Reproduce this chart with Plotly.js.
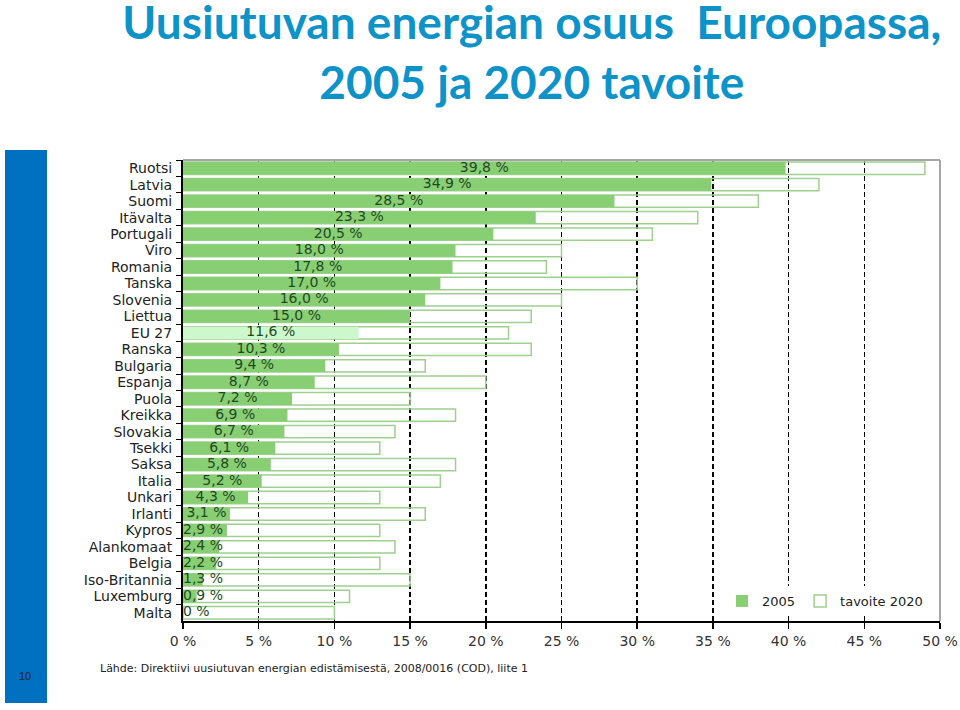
<!DOCTYPE html>
<html>
<head>
<meta charset="utf-8">
<script src="https://cdn.plot.ly/plotly-3.0.1.min.js"></script>
<style>html,body{margin:0;padding:0;background:#fff;}#chart{width:960px;height:710px;}</style>
</head>
<body>
<div id="chart"></div>
<script>
// ---- data ----
const countries = ["Ruotsi","Latvia","Suomi","Itävalta","Portugali","Viro","Romania","Tanska","Slovenia","Liettua","EU 27","Ranska","Bulgaria","Espanja","Puola","Kreikka","Slovakia","Tsekki","Saksa","Italia","Unkari","Irlanti","Kypros","Alankomaat","Belgia","Iso-Britannia","Luxemburg","Malta"];
const share2005 = [39.8,34.9,28.5,23.3,20.5,18.0,17.8,17.0,16.0,15.0,11.6,10.3,9.4,8.7,7.2,6.9,6.7,6.1,5.8,5.2,4.3,3.1,2.9,2.4,2.2,1.3,0.9,0.0];
const target2020 = [49,42,38,34,31,25,24,30,25,23,21.5,23,16,20,15,18,14,13,18,17,13,16,13,14,13,15,11,10];
const xTickVals = [0,5,10,15,20,25,30,35,40,45,50];
const xTickText = ["0 %","5 %","10 %","15 %","20 %","25 %","30 %","35 %","40 %","45 %","50 %"];
const seriesNames = ["2005","tavoite 2020"];
const highlight = "EU 27";

// ---- styles ----
const GREEN = "#88cf74", LIGHT = "#cdf7cd", OUTLINE = "#9fd08f", LABEL = "#1f4a1f";
const FONT = "DejaVu Sans, Verdana, sans-serif";

const fmt = v => (v === 0 ? "0" : v.toFixed(1).replace(".", ",")) + " %";

const traceTarget = {
  type: "bar", orientation: "h", name: seriesNames[1],
  y: countries, x: target2020,
  marker: {color: "rgba(255,255,255,0)", line: {color: OUTLINE, width: 1.5}},
  hoverinfo: "skip"
};
const trace2005 = {
  type: "bar", orientation: "h", name: seriesNames[0],
  y: countries, x: share2005,
  marker: {color: countries.map(c => c === highlight ? LIGHT : GREEN), line: {width: 0}},
  hoverinfo: "skip"
};
// value labels: centred in the bar, or starting at the axis when the bar is too short
const labelTrace = {
  type: "scatter", mode: "text", showlegend: false, hoverinfo: "skip",
  y: countries,
  x: share2005.map(v => v < 3 ? 0 : v / 2),
  text: share2005.map(fmt),
  textposition: share2005.map(v => v < 3 ? "middle right" : "middle center"),
  textfont: {family: FONT, size: 14, color: LABEL},
  cliponaxis: false
};

const px = (X) => (X - 183) / 757;
const py = (Y) => (621 - Y) / 461;

const layout = {
  width: 960, height: 710,
  margin: {l: 183, r: 20, t: 160, b: 89},
  paper_bgcolor: "#fff", plot_bgcolor: "#fff",
  barmode: "overlay", bargap: 0.25,
  font: {family: FONT, size: 14, color: "#222"},
  title: {
    text: "Uusiutuvan energian osuus  Euroopassa,<br>2005 ja 2020 tavoite",
    font: {family: "Lato, Liberation Sans, sans-serif", size: 46, color: "#0e93c9", weight: "bold"},
    xref: "container", x: 0.554, xanchor: "center",
    yref: "container", y: 1, yanchor: "top", pad: {t: 39}
  },
  xaxis: {
    range: [0, 50], tickmode: "array", tickvals: xTickVals, ticktext: xTickText,
    showgrid: true, gridcolor: "#000", gridwidth: 1.5, griddash: "5px,3px",
    zeroline: false, showline: true, linecolor: "#000", linewidth: 2,
    ticks: "outside", ticklen: 6, tickcolor: "#000", tickwidth: 1.5,
    tickfont: {family: FONT, size: 14, color: "#333"}, fixedrange: true
  },
  yaxis: {
    type: "category", range: [countries.length - 0.5, -0.5],
    tickmode: "linear", tick0: 0, dtick: 1,
    showline: true, linecolor: "#000", linewidth: 2,
    ticks: "outside", ticklen: 5, tickcolor: "#000", tickson: "boundaries",
    ticklabelstandoff: 6,
    showgrid: false, tickfont: {family: FONT, size: 14, color: "#222"}, fixedrange: true
  },
  legend: {
    orientation: "h", traceorder: "reversed",
    x: px(928), xanchor: "right", y: py(586), yanchor: "top",
    bgcolor: "#fff", font: {family: FONT, size: 13, color: "#222"},
    itemwidth: 30
  },
  shapes: [
    {type: "line", xref: "paper", yref: "paper", x0: 0, x1: 1, y0: 1, y1: 1, line: {color: "#a6a6a6", width: 2}},
    {type: "line", xref: "paper", yref: "paper", x0: 1, x1: 1, y0: 0, y1: 1, line: {color: "#a6a6a6", width: 2}},
    {type: "rect", xref: "paper", yref: "paper", x0: px(5), x1: px(47), y0: py(703), y1: py(150), fillcolor: "#0070c0", line: {width: 0}, layer: "above"}
  ],
  annotations: [
    {xref: "paper", yref: "paper", x: px(98), xanchor: "left", y: py(668), yanchor: "middle", showarrow: false,
     text: "Lähde: Direktiivi uusiutuvan energian edistämisestä, 2008/0016 (COD), liite 1",
     font: {family: FONT, size: 11, color: "#222"}},
    {xref: "paper", yref: "paper", x: px(25), xanchor: "center", y: py(676), yanchor: "middle", showarrow: false,
     text: "10", font: {family: "Liberation Sans, Arial, sans-serif", size: 11, color: "#222"}}
  ]
};

Plotly.newPlot("chart", [traceTarget, trace2005, labelTrace], layout, {displayModeBar: false, staticPlot: true});
</script>
</body>
</html>
